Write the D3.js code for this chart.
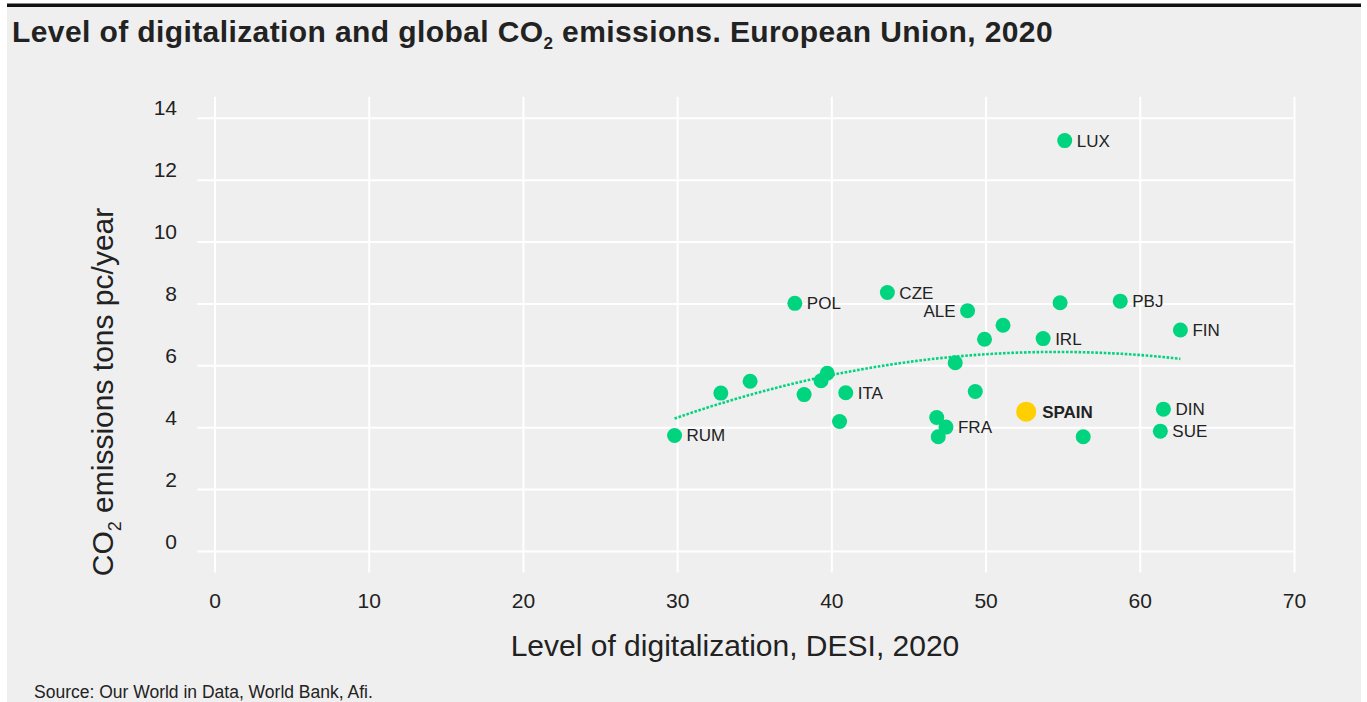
<!DOCTYPE html>
<html>
<head>
<meta charset="utf-8">
<script src="https://cdn.jsdelivr.net/npm/d3@7"></script>
<style>
  html, body { margin: 0; padding: 0; background: #ffffff; }
  svg { display: block; }
  text { font-family: "Liberation Sans", Arial, sans-serif; fill: #222; }
</style>
</head>
<body>
<svg id="chart" width="1367" height="702"></svg>
<script>
// EU member states: DESI 2020 score vs CO2 emissions (tonnes per capita)
const countries = ["LUX","POL","CZE","ALE","","PBJ","","","IRL","FIN","","RUM","","","","","","ITA","","","SPAIN","","FRA","","","DIN","SUE"];
const desi      = [55.1, 37.6, 43.6, 48.8, 54.8, 58.7, 51.1, 49.9, 53.7, 62.6, 48.0, 29.8, 32.8, 34.7, 38.2, 39.3, 39.7, 40.9, 40.5, 49.3, 52.6, 46.8, 47.4, 46.9, 56.3, 61.5, 61.3];
const co2       = [13.28, 8.02, 8.37, 7.78, 8.04, 8.09, 7.31, 6.86, 6.88, 7.16, 6.10, 3.75, 5.12, 5.50, 5.07, 5.52, 5.76, 5.13, 4.20, 5.17, 4.52, 4.33, 4.02, 3.71, 3.71, 4.60, 3.89];
const labelSide = ["right","right","right","left","","right","","","right","right","","right","","","","","","right","","","right","","right","","","right","right"];
const highlight = "SPAIN";

const xTicks = [0, 10, 20, 30, 40, 50, 60, 70];
const yTicks = [0, 2, 4, 6, 8, 10, 12, 14];

const GREEN = "#00d47e";
const YELLOW = "#ffcf00";
const BG = "#efefef";

const svg = d3.select("#chart");

// panel background and top rule
svg.append("rect").attr("x", 7).attr("y", 6).attr("width", 1354).attr("height", 696).attr("fill", BG);
svg.append("rect").attr("x", 7).attr("y", 3.5).attr("width", 1354).attr("height", 3.5).attr("fill", "#111");

// title
const title = svg.append("text").attr("x", 12).attr("y", 42)
  .style("font-weight", "700").style("font-size", "30px").style("letter-spacing", "0.4px").attr("fill", "#111");
title.append("tspan").text("Level of digitalization and global CO");
title.append("tspan").text("2").style("font-size", "17px").attr("dy", 7);
title.append("tspan").text(" emissions. European Union, 2020").attr("dy", -7);

// scales
const x = d3.scaleLinear().domain([0, 70]).range([215, 1294.5]);
const y = d3.scaleLinear().domain([0, 14]).range([551.5, 118.3]);

const grid = svg.append("g").attr("stroke", "#ffffff").attr("stroke-width", 2);
grid.selectAll("line.h").data(yTicks).join("line")
  .attr("x1", x(-1.15)).attr("x2", x(69.9))
  .attr("y1", d => y(d)).attr("y2", d => y(d));
grid.selectAll("line.v").data(xTicks).join("line")
  .attr("x1", d => x(d)).attr("x2", d => x(d))
  .attr("y1", y(14.7)).attr("y2", y(-0.68));

// tick labels
svg.append("g").selectAll("text").data(yTicks).join("text")
  .attr("x", 177).attr("y", d => y(d) - 3)
  .attr("text-anchor", "end").style("font-size", "21px")
  .text(d => d);
svg.append("g").selectAll("text").data(xTicks).join("text")
  .attr("x", d => x(d)).attr("y", 608)
  .attr("text-anchor", "middle").style("font-size", "21px")
  .text(d => d);

// axis titles
svg.append("text").attr("x", 735).attr("y", 656)
  .attr("text-anchor", "middle").style("font-size", "30px")
  .text("Level of digitalization, DESI, 2020");

const yTitle = svg.append("text")
  .attr("transform", "translate(113,392) rotate(-90)")
  .attr("text-anchor", "middle").style("font-size", "30px");
yTitle.append("tspan").text("CO");
yTitle.append("tspan").text("2").style("font-size", "18px").attr("dy", 8);
yTitle.append("tspan").text("  emissions tons pc/year").attr("dy", -8);

// quadratic least-squares trend of CO2 on DESI
function quadFit(xs, ys) {
  const n = xs.length;
  let s = [0, 0, 0, 0, 0], t = [0, 0, 0];
  for (let i = 0; i < n; i++) {
    const xi = xs[i], yi = ys[i];
    for (let k = 0; k < 5; k++) s[k] += Math.pow(xi, k);
    for (let k = 0; k < 3; k++) t[k] += yi * Math.pow(xi, k);
  }
  const A = [[s[0], s[1], s[2], t[0]], [s[1], s[2], s[3], t[1]], [s[2], s[3], s[4], t[2]]];
  for (let c = 0; c < 3; c++) {
    for (let r = c + 1; r < 3; r++) {
      const f = A[r][c] / A[c][c];
      for (let k = c; k < 4; k++) A[r][k] -= f * A[c][k];
    }
  }
  const b = [0, 0, 0];
  for (let r = 2; r >= 0; r--) {
    let v = A[r][3];
    for (let k = r + 1; k < 3; k++) v -= A[r][k] * b[k];
    b[r] = v / A[r][r];
  }
  return b;
}
const coef = quadFit(desi, co2);
const xMin = d3.min(desi), xMax = d3.max(desi);
const trend = d3.range(0, 61).map(i => {
  const xv = xMin + (xMax - xMin) * i / 60;
  return [xv, coef[0] + coef[1] * xv + coef[2] * xv * xv];
});
svg.append("path")
  .attr("d", d3.line().x(d => x(d[0])).y(d => y(d[1]))(trend))
  .attr("fill", "none").attr("stroke", GREEN).attr("stroke-width", 2.6)
  .attr("stroke-dasharray", "2.6 1.6");

// points
const pts = desi.map((d, i) => ({ desi: d, co2: co2[i], name: countries[i], side: labelSide[i] }));
svg.append("g").selectAll("circle").data(pts).join("circle")
  .attr("cx", d => x(d.desi)).attr("cy", d => y(d.co2))
  .attr("r", d => d.name === highlight ? 10 : 7.5)
  .attr("fill", d => d.name === highlight ? YELLOW : GREEN);

// point labels
svg.append("g").selectAll("text").data(pts.filter(d => d.name)).join("text")
  .attr("x", d => x(d.desi) + (d.side === "left" ? -12 : (d.name === highlight ? 16 : 12)))
  .attr("y", d => y(d.co2) + 6)
  .attr("text-anchor", d => d.side === "left" ? "end" : "start")
  .style("font-size", "17px")
  .style("font-weight", d => d.name === highlight ? "700" : "400")
  .attr("fill", "#2a2a2a")
  .text(d => d.name);

// source note
svg.append("text").attr("x", 34).attr("y", 698)
  .style("font-size", "17.5px").attr("fill", "#222")
  .text("Source: Our World in Data, World Bank, Afi.");
</script>
</body>
</html>
